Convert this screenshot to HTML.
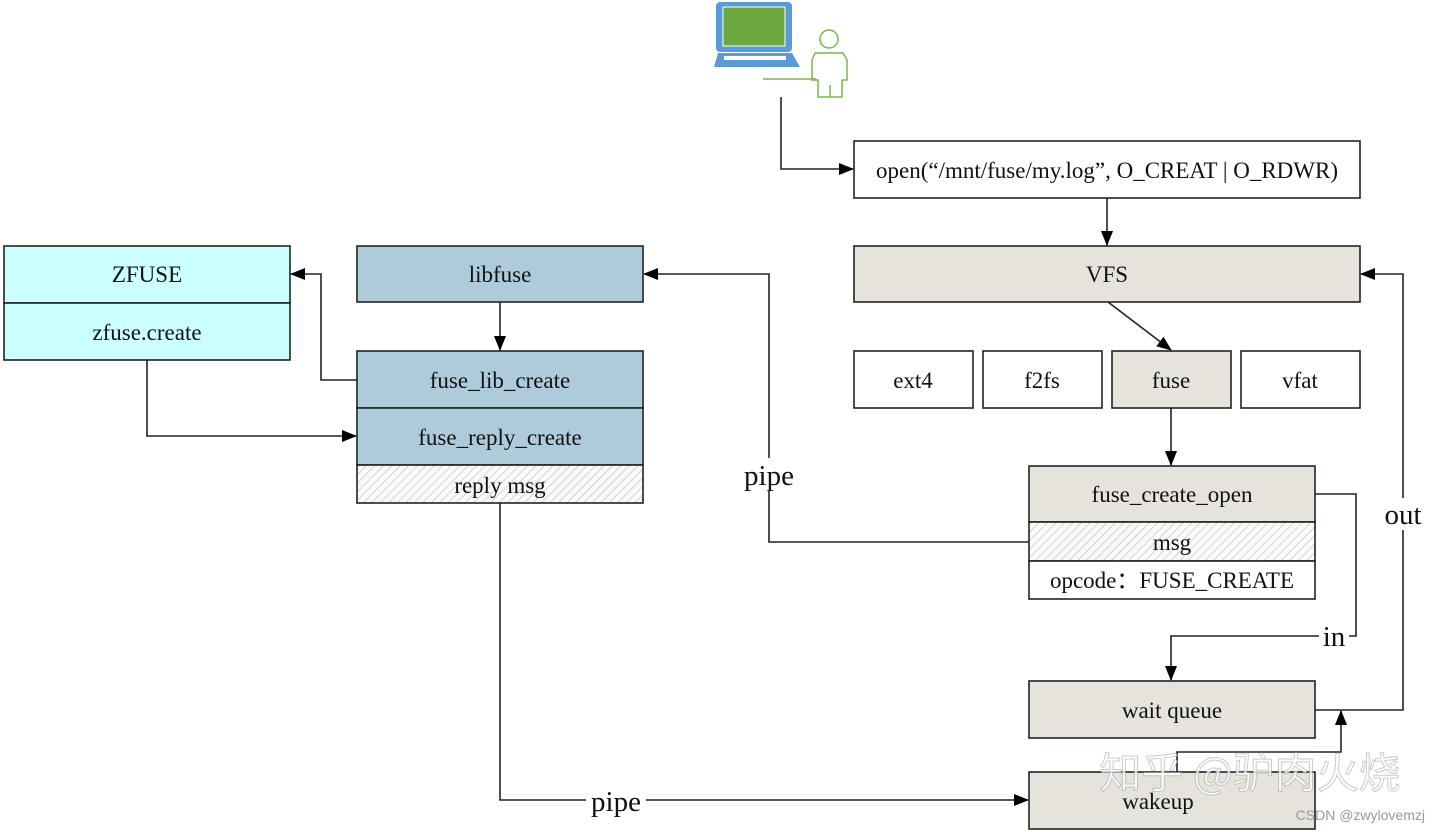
<!DOCTYPE html>
<html><head><meta charset="utf-8"><style>
html,body{margin:0;padding:0;background:#fff;}
svg{display:block;}
text{font-family:"Liberation Serif",serif;fill:#111;}
</style></head><body>
<svg width="1440" height="832" viewBox="0 0 1440 832" xmlns="http://www.w3.org/2000/svg">
<defs>
<pattern id="h" width="6" height="6" patternUnits="userSpaceOnUse" patternTransform="rotate(45)">
<rect width="6" height="6" fill="#fafaf8"/><line x1="0" y1="0" x2="0" y2="6" stroke="#bbb" stroke-width="1.2"/>
</pattern>
<marker id="a" markerWidth="15" markerHeight="12" refX="14" refY="6" orient="auto" markerUnits="userSpaceOnUse">
<path d="M0,0 L15,6 L0,12 z" fill="#000"/></marker>
</defs>
<g stroke="#222" stroke-width="1.6">
<!-- icon -->
<rect x="716" y="2" width="76" height="50" rx="4" fill="#5b9bd5" stroke="none"/>
<rect x="723" y="7" width="62" height="39" fill="#6aa83d" stroke="#fff" stroke-width="1"/>
<path d="M718,53 L792,53 L800,67 L714,67 Z" fill="#5b9bd5" stroke="none"/>
<rect x="724" y="56" width="62" height="4" fill="#fff" stroke="none"/>
<g stroke="#7ab648" stroke-width="1.5" fill="#fff">
<circle cx="829" cy="39" r="9"/>
<path d="M815,53 L843,53 L847,60 L847,80 L842,80 L842,97 L818,97 L818,80 L812,80 L812,60 Z"/>
<line x1="763" y1="79" x2="816" y2="79"/>
<line x1="830" y1="85" x2="830" y2="97"/>
</g>
<!-- boxes -->
<rect x="854" y="141" width="506" height="57" fill="#fff"/>
<rect x="854" y="246" width="506" height="56" fill="#e6e3dc"/>
<rect x="854" y="351" width="119" height="57" fill="#fff"/>
<rect x="983" y="351" width="119" height="57" fill="#fff"/>
<rect x="1112" y="351" width="119" height="57" fill="#e6e3dc"/>
<rect x="1241" y="351" width="119" height="57" fill="#fff"/>
<rect x="1029" y="466" width="286" height="56" fill="#e6e3dc"/>
<rect x="1029" y="522" width="286" height="39" fill="url(#h)"/>
<rect x="1029" y="561" width="286" height="38" fill="#fff"/>
<rect x="1029" y="681" width="286" height="57" fill="#e6e3dc"/>
<rect x="1029" y="772" width="286" height="57" fill="#e6e3dc"/>
<rect x="4" y="246" width="286" height="57" fill="#ccffff"/>
<rect x="4" y="303" width="286" height="57" fill="#ccffff"/>
<rect x="357" y="246" width="286" height="56" fill="#aecbdc"/>
<rect x="357" y="351" width="286" height="57" fill="#aecbdc"/>
<rect x="357" y="408" width="286" height="57" fill="#aecbdc"/>
<rect x="357" y="465" width="286" height="38" fill="url(#h)"/>
<!-- connectors -->
<g fill="none">
<path d="M781,97 V169 H853" marker-end="url(#a)"/>
<path d="M1107,198 V245" marker-end="url(#a)"/>
<path d="M1108,302 L1171,350" marker-end="url(#a)"/>
<path d="M1171,408 V465" marker-end="url(#a)"/>
<path d="M1315,494 H1356 V636 H1171 V680" marker-end="url(#a)"/>
<path d="M1315,710 H1403 V274 H1361" marker-end="url(#a)"/>
<path d="M1177,772 V752 H1341 V711" marker-end="url(#a)"/>
<path d="M1029,542 H769 V274 H644" marker-end="url(#a)"/>
<path d="M500,302 V350" marker-end="url(#a)"/>
<path d="M357,380 H321 V274 H291" marker-end="url(#a)"/>
<path d="M147,360 V436 H356" marker-end="url(#a)"/>
<path d="M500,503 V800 H1028" marker-end="url(#a)"/>
</g>
</g>
<!-- label backgrounds -->
<rect x="740" y="458" width="58" height="32" fill="#fff"/>
<rect x="586" y="784" width="60" height="32" fill="#fff"/>
<rect x="1319" y="620" width="30" height="30" fill="#fff"/>
<rect x="1381" y="498" width="44" height="32" fill="#fff"/>
<g font-size="23" text-anchor="middle">
<text x="1107" y="178">open(“/mnt/fuse/my.log”, O_CREAT | O_RDWR)</text>
<text x="1107" y="282">VFS</text>
<text x="913" y="388">ext4</text>
<text x="1042" y="388">f2fs</text>
<text x="1171" y="388">fuse</text>
<text x="1300" y="388">vfat</text>
<text x="1172" y="502">fuse_create_open</text>
<text x="1172" y="550">msg</text>
<text x="1172" y="588">opcode：FUSE_CREATE</text>
<text x="1172" y="718">wait queue</text>
<text x="1158" y="809">wakeup</text>
<text x="147" y="282">ZFUSE</text>
<text x="147" y="340">zfuse.create</text>
<text x="500" y="282">libfuse</text>
<text x="500" y="388">fuse_lib_create</text>
<text x="500" y="445">fuse_reply_create</text>
<text x="500" y="493">reply msg</text>
</g>
<g font-size="29" text-anchor="middle">
<text x="769" y="485">pipe</text>
<text x="616" y="811">pipe</text>
<text x="1334" y="646">in</text>
<text x="1403" y="524">out</text>
</g>
<text x="1250" y="788" font-size="42" text-anchor="middle" style="font-family:'Noto Sans CJK SC',sans-serif;fill:rgba(255,255,255,0.75);stroke:rgba(150,150,150,0.5);stroke-width:1">知乎 @驴肉火烧</text>
<text x="1425" y="820" font-size="14" text-anchor="end" style="font-family:'Liberation Sans',sans-serif;fill:#999">CSDN @zwylovemzj</text>
</svg>
</body></html>
